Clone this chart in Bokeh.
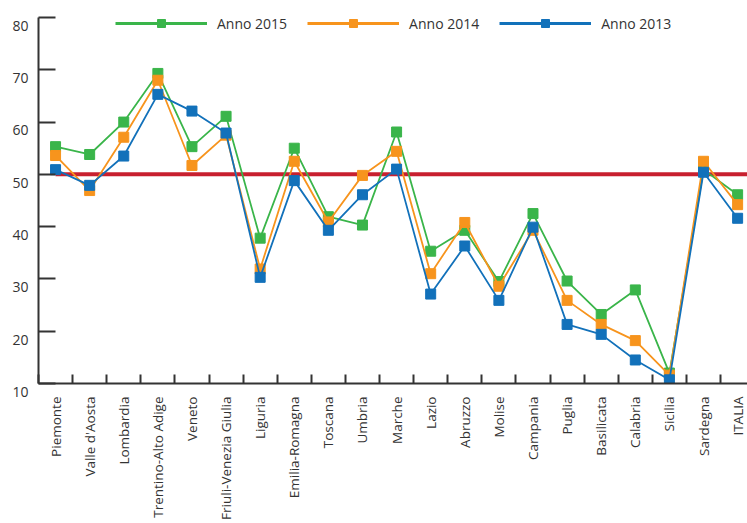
import math
from bokeh.plotting import figure
from bokeh.models import FixedTicker, Legend, LegendItem, Range1d
from bokeh.embed import file_html
from bokeh.resources import INLINE

regions = ["Piemonte", "Valle d'Aosta", "Lombardia", "Trentino-Alto Adige", "Veneto",
           "Friuli-Venezia Giulia", "Liguria", "Emilia-Romagna", "Toscana", "Umbria",
           "Marche", "Lazio", "Abruzzo", "Molise", "Campania", "Puglia", "Basilicata",
           "Calabria", "Sicilia", "Sardegna", "ITALIA"]
anno_2015 = [55.3, 53.8, 60.0, 69.3, 55.3, 61.1, 37.8, 55.0, 41.9, 40.3, 58.1,
             35.3, 39.3, 29.5, 42.5, 29.6, 23.2, 27.9, 12.0, 50.9, 46.1]
anno_2014 = [53.6, 46.9, 57.1, 68.0, 51.7, 57.5, 31.9, 52.5, 40.9, 49.8, 54.4,
             31.0, 40.8, 28.6, 39.3, 25.9, 21.3, 18.2, 11.6, 52.5, 44.2]
anno_2013 = [50.9, 47.9, 53.5, 65.3, 62.1, 57.9, 30.3, 48.8, 39.3, 46.1, 51.0,
             27.1, 36.3, 25.9, 39.9, 21.3, 19.4, 14.5, 10.7, 50.4, 41.6]
series_names = ["Anno 2015", "Anno 2014", "Anno 2013"]
colors = ["#3ab54a", "#f7941d", "#1271ba"]
threshold = 50
y_ticks = [10, 20, 30, 40, 50, 60, 70, 80]

FONT = "Open Sans"
TXT = "#333333"

xs = list(range(len(regions)))
x_end = 20.29

p = figure(width=747, height=523, x_range=Range1d(-0.5, x_end), y_range=Range1d(10, 81.72),
           output_backend="svg", toolbar_location=None,
           min_border_left=38, min_border_right=0, min_border_top=8, min_border_bottom=140)
p.outline_line_color = None
p.xgrid.visible = False
p.ygrid.visible = False

# x axis: labels at centers, ticks at boundaries (minor ticks)
p.xaxis.ticker = FixedTicker(ticks=xs, minor_ticks=[i - 0.5 for i in range(len(regions) + 1)])
p.xaxis.major_label_overrides = {i: r for i, r in enumerate(regions)}
p.xaxis.major_label_orientation = math.pi / 2
p.xaxis.major_tick_in = 0
p.xaxis.major_tick_out = 0
p.xaxis.minor_tick_in = 9
p.xaxis.minor_tick_out = 0
p.xaxis.minor_tick_line_color = TXT
p.xaxis.minor_tick_line_width = 2
p.xaxis.major_label_standoff = 13
p.xaxis.major_label_text_font = FONT
p.xaxis.major_label_text_font_size = "13.5px"
p.xaxis.major_label_text_color = TXT
p.xaxis.axis_line_color = TXT
p.xaxis.axis_line_width = 2

p.yaxis.ticker = FixedTicker(ticks=y_ticks)
p.yaxis.bounds = (y_ticks[0], y_ticks[-1])
p.yaxis.major_label_overrides = {v: "\n" + str(v) for v in y_ticks}
p.yaxis.major_label_text_line_height = 0.83
p.yaxis.major_tick_in = 17
p.yaxis.major_tick_out = 0
p.yaxis.minor_tick_line_color = None
p.yaxis.major_tick_line_color = TXT
p.yaxis.major_tick_line_width = 2
p.yaxis.axis_line_color = TXT
p.yaxis.axis_line_width = 2
p.yaxis.major_label_standoff = 10
p.yaxis.major_label_text_font = FONT
p.yaxis.major_label_text_font_size = "14px"
p.yaxis.major_label_text_color = TXT

# threshold line
p.segment(x0=xs[0], x1=x_end, y0=threshold, y1=threshold, line_color="#c8202f", line_width=4)

nan = float("nan")
items = []
for name, vals, c in zip(series_names, [anno_2015, anno_2014, anno_2013], colors):
    p.line(xs, vals, line_color=c, line_width=1.8)
    p.scatter(xs, vals, marker="square", size=10, fill_color=c, line_color=c)
    # legend-only glyphs (thicker line, as in the reference legend)
    lr = p.line(x=[nan], y=[nan], line_color=c, line_width=3)
    sr = p.scatter(x=[nan], y=[nan], marker="square", size=10, fill_color=c, line_color=c)
    items.append(LegendItem(label=name, renderers=[lr, sr]))

legend = Legend(items=items, orientation="horizontal", location=(77, 350),
                glyph_width=92, glyph_height=20, label_height=20, label_standoff=10,
                spacing=20, padding=0, margin=0, border_line_alpha=0,
                background_fill_alpha=0, label_text_font=FONT, label_text_baseline="alphabetic",
                label_text_font_size="14px", label_text_color=TXT)
p.add_layout(legend)

open("out.html", "w").write(file_html(p, INLINE))
